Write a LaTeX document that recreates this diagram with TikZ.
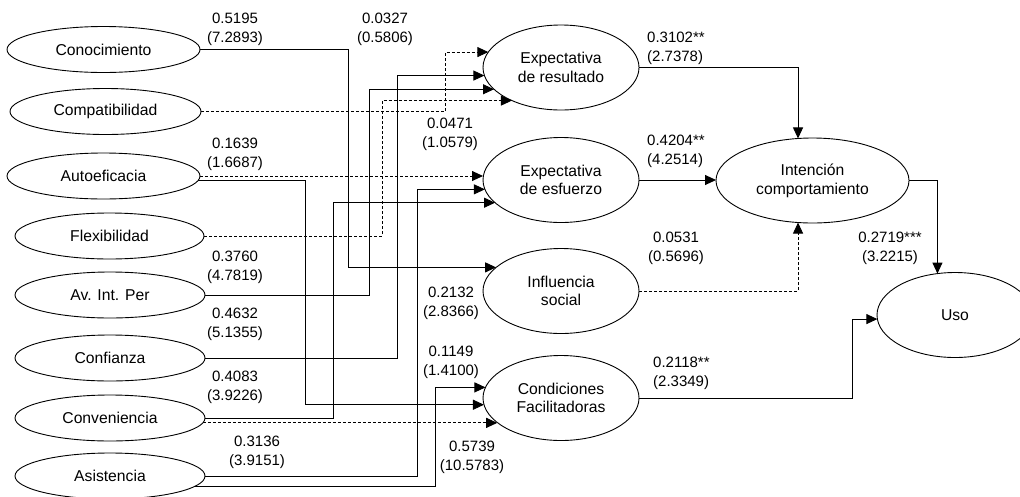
\documentclass[tikz,border=0pt]{standalone}
\usepackage{fontspec}
\setmainfont{Liberation Sans}
\usetikzlibrary{arrows.meta,shapes.geometric}
\begin{document}
\begin{tikzpicture}[x=1pt,y=-1pt,
 lv/.style={ellipse,draw,line width=0.9pt,inner sep=0pt,outer sep=0pt,minimum width=190pt,minimum height=46pt,font=\fontsize{15.7}{18.7}\selectfont},
 cv/.style={ellipse,draw,line width=0.9pt,inner sep=0pt,outer sep=0pt,minimum width=156pt,minimum height=85pt,align=center,font=\fontsize{15.7}{18.7}\selectfont},
 lab/.style={inner sep=0pt,align=center,font=\fontsize{15}{19}\selectfont},
 sig/.style={line width=0.9pt,-{Triangle[length=11pt,width=10pt]}},
 ns/.style={sig,dash pattern=on 3pt off 2pt},
]
\clip (0,0) rectangle (1020,496);
% exogenous constructs
\node[lv,minimum width=193pt] (con) at (103.5,49.5) {Conocimiento};
\node[lv,minimum width=191pt] (com) at (105.5,111.5) {Compatibilidad};
\node[lv,minimum width=193pt] (aut) at (103.5,176) {Autoeficacia};
\node[lv,minimum width=189pt] (fle) at (109.5,236) {Flexibilidad};
\node[lv] (avi) at (110,295) {Av. Int. Per};
\node[lv] (cnf) at (110,358) {Confianza};
\node[lv] (cnv) at (110,418) {Conveniencia};
\node[lv] (asi) at (110,476) {Asistencia};
% middle constructs
\node[cv] (er) at (561,67.5) {Expectativa\\de resultado};
\node[cv] (ee) at (561,180) {Expectativa\\de esfuerzo};
\node[cv] (is) at (561,291) {Influencia\\social};
\node[cv] (cf) at (561,398) {Condiciones\\Facilitadoras};
\node[cv,minimum width=193pt] (ic) at (812.5,180.5) {Intención\\comportamiento};
\node[cv] (uso) at (955,315) {Uso};
% routing channels
\coordinate (k1) at (348,0);
\coordinate (k2) at (445,0);
\coordinate (k3) at (305,0);
\coordinate (k4) at (382,0);
\coordinate (k5) at (369,0);
\coordinate (k6) at (397,0);
\coordinate (k7) at (333,0);
\coordinate (k8) at (417,0);
\coordinate (k9) at (435,0);
\coordinate (k10) at (852,0);
% connectors
\draw[sig] (con.east) -| (k1 |- is.160.7) -- (is.160.7);
\draw[ns] (com.east) -| (k2 |- er.168.4) -- (er.168.4);
\draw[ns] (aut.east) -- (aut.east -| ee.west);
\draw[sig] (aut.357) -| (k3 |- cf.185.2) -- (cf.185.2);
\draw[ns] (fle.east) -| (k4 |- er.214.9) -- (er.214.9);
\draw[sig] (avi.east) -| (k5 |- er.198.8) -- (er.198.8);
\draw[sig] (cnf.east) -| (k6 |- er.186) -- (er.186);
\draw[sig] (cnv.east) -| (k7 |- ee.199.3) -- (ee.199.3);
\draw[ns] (cnv.357) -- (cnv.357 -| cf.201.6);
\draw[sig] (asi.east) -| (k8 |- ee.187.5) -- (ee.187.5);
\draw[sig] (asi.353.3) -| (k9 |- cf.172.5) -- (cf.172.5);
\draw[sig] (er.east) -| (ic.109);
\draw[sig] (ee.east) -- (ee.east -| ic.west);
\draw[ns] (is.east) -| (ic.251);
\draw[sig] (ic.east) -| (uso.113.3);
\draw[sig] (cf.east) -| (k10 |- uso.183) -- (uso.183);
% labels
\node[lab] (l1) at (235,29.5) {0.5195\\(7.2893)};
\node[lab] (l2) at (385,29.5) {0.0327\\(0.5806)};
\node[lab] (l3) at (235,154.5) {0.1639\\(1.6687)};
\node[lab] (l4) at (450,134.5) {0.0471\\(1.0579)};
\node[lab] (l5) at (235,267) {0.3760\\(4.7819)};
\node[lab] (l6) at (235,324.5) {0.4632\\(5.1355)};
\node[lab] (l7) at (235,387.5) {0.4083\\(3.9226)};
\node[lab] (l8) at (257,452) {0.3136\\(3.9151)};
\node[lab] (l9) at (451,303) {0.2132\\(2.8366)};
\node[lab] (l10) at (451,362) {0.1149\\(1.4100)};
\node[lab] (l11) at (472,457.5) {0.5739\\(10.5783)};
\node[lab,anchor=west,align=left] (l12) at (647,48) {0.3102**\\(2.7378)};
\node[lab,anchor=west,align=left] (l13) at (647,151) {0.4204**\\(4.2514)};
\node[lab] (l14) at (676,248.5) {0.0531\\(0.5696)};
\node[lab] (l15) at (890,248) {0.2719***\\(3.2215)};
\node[lab,anchor=west,align=left] (l16) at (653,373) {0.2118**\\(2.3349)};
\end{tikzpicture}
\end{document}
